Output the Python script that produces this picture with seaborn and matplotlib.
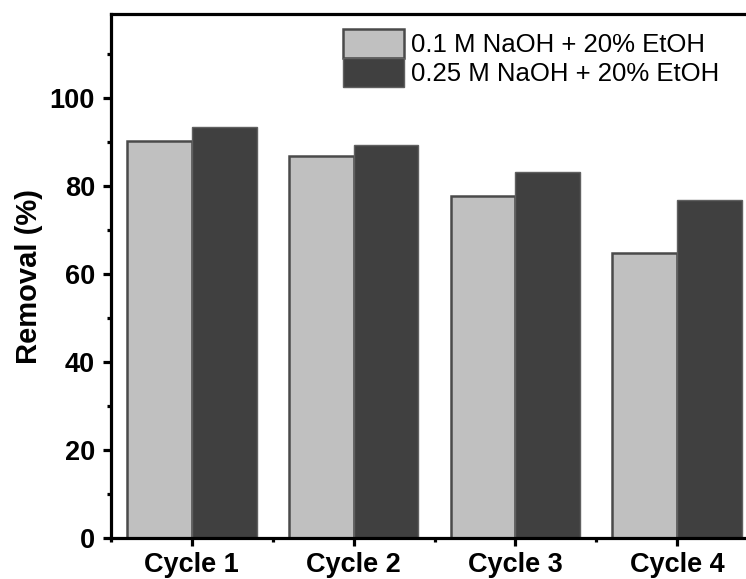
import numpy as np
import pandas as pd
import matplotlib
matplotlib.use("Agg")
import matplotlib.pyplot as plt
import seaborn as sns
from matplotlib.ticker import MultipleLocator, FixedLocator

cycles = ["Cycle 1", "Cycle 2", "Cycle 3", "Cycle 4"]
removal_01 = [90.1, 86.8, 77.7, 64.8]
removal_025 = [93.3, 89.3, 83.1, 76.8]
series_names = ["0.1 M NaOH + 20% EtOH", "0.25 M NaOH + 20% EtOH"]

df = pd.DataFrame({
    "Cycle": cycles * 2,
    "Removal": removal_01 + removal_025,
    "Eluent": [series_names[0]] * 4 + [series_names[1]] * 4,
})

sns.set_style("ticks")
plt.rcParams["font.family"] = ["Liberation Sans", "DejaVu Sans"]
for key in ["text.color", "axes.labelcolor", "xtick.color", "ytick.color"]:
    plt.rcParams[key] = "black"

fig = plt.figure(figsize=(7.46, 5.79), dpi=100)
ax = fig.add_axes([111 / 746, 41 / 579, 647 / 746, 524 / 579])

palette = {series_names[0]: "#c0c0c0", series_names[1]: "#404040"}
sns.barplot(data=df, x="Cycle", y="Removal", hue="Eluent", palette=palette,
            width=0.8, saturation=1, ax=ax, legend=True)

# edges: light bars have a dark outline, dark bars a thin grey one
edge_cols = ["#4a4a4a", "#606060"]
edge_lws = [1.8, 1.0]
for cont, ec, lw in zip(ax.containers, edge_cols, edge_lws):
    for p in cont:
        p.set_edgecolor(ec)
        p.set_linewidth(lw)

ax.set_xlim(-0.5, 3.5)
ax.set_ylim(0, 119)
ax.yaxis.set_major_locator(MultipleLocator(20))
ax.yaxis.set_minor_locator(MultipleLocator(10))
ax.xaxis.set_minor_locator(FixedLocator([-0.5, 0.5, 1.5, 2.5, 3.5]))

for side in ["left", "top", "bottom"]:
    ax.spines[side].set_linewidth(2.3)
    ax.spines[side].set_color("black")
ax.spines["right"].set_visible(False)

ax.tick_params(which="major", length=6, width=2.3, color="black", pad=5.5)
ax.tick_params(which="minor", length=3, width=2.3, color="black")
ax.tick_params(axis="both", labelsize=19.5)
ax.tick_params(axis="x", pad=4)
for lab in ax.get_xticklabels() + ax.get_yticklabels():
    lab.set_fontweight("bold")

ax.set_xlabel("")
ax.set_ylabel("Removal (%)", fontsize=21, fontweight="bold", labelpad=5)

handles, labels = ax.get_legend_handles_labels()
leg = ax.legend(handles, labels, loc="upper left", bbox_to_anchor=(0.358, 0.972),
                frameon=False, fontsize=18.5, handlelength=2.4, handleheight=1.38,
                labelspacing=0.0, handletextpad=0.28, borderaxespad=0, borderpad=0)
for h, ec, lw in zip(leg.get_patches(), edge_cols, edge_lws):
    h.set_edgecolor(ec)
    h.set_linewidth(lw)

fig.savefig("out.png", dpi=100)
